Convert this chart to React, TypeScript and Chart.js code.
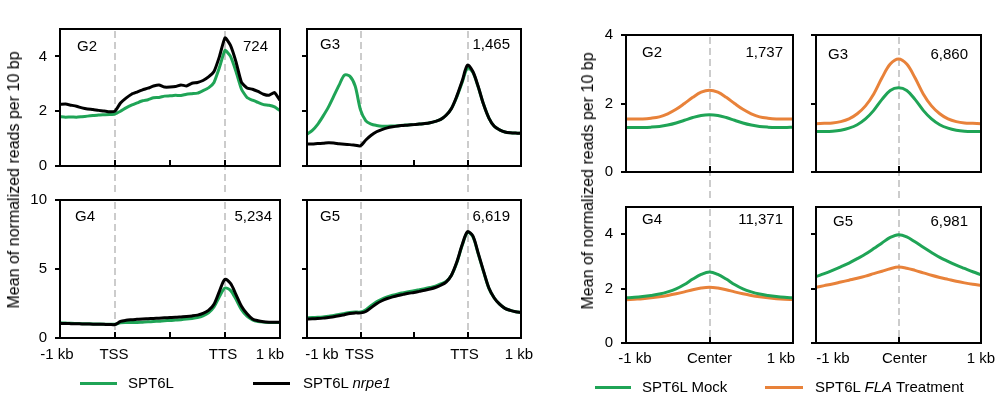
import React, { useEffect, useRef } from "react";
import { Chart, registerables } from "chart.js";
Chart.register(...registerables);

const FONT = '"Liberation Sans", Arial, Helvetica, sans-serif';
const GREEN = "#1fa456";
const ORANGE = "#e8823a";
const BLACK = "#000000";

// ---------- x positions ----------
const geneBins = [0, 0.1, 0.2, 0.3, 0.4, 0.5, 0.6, 0.7, 0.8, 0.9, 1.0,
  1.1, 1.2, 1.3, 1.4, 1.5, 1.6, 1.7, 1.8, 1.9, 2.0,
  2.1, 2.2, 2.3, 2.4, 2.5, 2.6, 2.7, 2.8, 2.9, 3.0,
  3.1, 3.2, 3.3, 3.4, 3.5, 3.6, 3.7, 3.8, 3.9, 4.0];
const geneTickValues = [0, 1, 2, 3, 4];
const geneTickLabels = ["-1 kb", "TSS", "", "TTS", "1 kb"];
const geneMarks = [1, 3];
const geneInnerTicks = [1, 2, 3];

const centerBins = [-1, -0.9, -0.8, -0.7, -0.6, -0.5, -0.4, -0.3, -0.2, -0.1, 0,
  0.1, 0.2, 0.3, 0.4, 0.5, 0.6, 0.7, 0.8, 0.9, 1];
const centerTickValues = [-1, 0, 1];
const centerTickLabels = ["-1 kb", "Center", "1 kb"];
const centerMarks = [0];
const centerInnerTicks = [0];

// ---------- left group: SPT6L vs SPT6L nrpe1 ----------
const g2Spt6l = [1.80, 1.78, 1.79, 1.78, 1.80, 1.82, 1.84, 1.86, 1.87, 1.88, 1.90,
  2.00, 2.12, 2.22, 2.30, 2.38, 2.42, 2.49, 2.50, 2.55, 2.56,
  2.58, 2.57, 2.62, 2.64, 2.66, 2.75, 2.85, 3.05, 3.60, 4.22,
  4.00, 3.45, 2.80, 2.50, 2.40, 2.32, 2.24, 2.22, 2.16, 2.02];
const g2Nrpe1 = [2.25, 2.26, 2.22, 2.18, 2.12, 2.08, 2.06, 2.03, 2.01, 1.98, 2.00,
  2.30, 2.48, 2.62, 2.70, 2.78, 2.84, 2.92, 2.96, 2.88, 2.88,
  2.90, 2.96, 2.92, 3.02, 3.05, 3.12, 3.25, 3.45, 4.00, 4.68,
  4.40, 3.80, 3.05, 2.85, 2.80, 2.72, 2.62, 2.58, 2.68, 2.40];

const g3Spt6l = [1.16, 1.30, 1.52, 1.82, 2.15, 2.55, 2.95, 3.32, 3.28, 2.92, 2.05,
  1.65, 1.53, 1.48, 1.45, 1.45, 1.46, 1.47, 1.49, 1.50, 1.51,
  1.53, 1.55, 1.58, 1.63, 1.70, 1.85, 2.10, 2.52, 3.05, 3.58,
  3.42, 2.88, 2.25, 1.75, 1.45, 1.32, 1.24, 1.21, 1.20, 1.20];
const g3Nrpe1 = [0.80, 0.80, 0.82, 0.83, 0.85, 0.84, 0.81, 0.79, 0.78, 0.76, 0.74,
  0.95, 1.12, 1.25, 1.33, 1.39, 1.43, 1.46, 1.48, 1.50, 1.51,
  1.53, 1.55, 1.58, 1.63, 1.70, 1.85, 2.10, 2.55, 3.10, 3.68,
  3.45, 2.90, 2.25, 1.75, 1.45, 1.32, 1.24, 1.21, 1.20, 1.20];

const g4Spt6l = [1.10, 1.08, 1.06, 1.05, 1.04, 1.03, 1.02, 1.01, 1.00, 1.00, 1.00,
  1.10, 1.12, 1.12, 1.13, 1.15, 1.17, 1.20, 1.22, 1.25, 1.27,
  1.30, 1.33, 1.37, 1.42, 1.48, 1.60, 1.82, 2.25, 3.00, 3.62,
  3.45, 2.80, 2.05, 1.58, 1.32, 1.20, 1.15, 1.13, 1.12, 1.12];
const g4Nrpe1 = [1.05, 1.05, 1.04, 1.03, 1.02, 1.01, 1.00, 1.00, 0.99, 0.98, 0.98,
  1.20, 1.28, 1.32, 1.35, 1.38, 1.40, 1.42, 1.44, 1.46, 1.48,
  1.50, 1.53, 1.56, 1.60, 1.66, 1.78, 2.00, 2.45, 3.40, 4.25,
  3.95, 3.15, 2.30, 1.75, 1.38, 1.25, 1.18, 1.15, 1.14, 1.14];

const g5Spt6l = [1.47, 1.48, 1.50, 1.53, 1.58, 1.63, 1.70, 1.78, 1.85, 1.88, 1.88,
  2.05, 2.35, 2.62, 2.82, 2.98, 3.10, 3.20, 3.28, 3.36, 3.42,
  3.50, 3.58, 3.66, 3.76, 3.92, 4.10, 4.55, 5.45, 6.70, 7.65,
  7.35, 6.10, 4.80, 3.60, 2.90, 2.45, 2.15, 2.00, 1.90, 1.85];
const g5Nrpe1 = [1.38, 1.39, 1.41, 1.44, 1.49, 1.54, 1.61, 1.69, 1.77, 1.82, 1.82,
  1.92, 2.20, 2.48, 2.70, 2.86, 2.98, 3.08, 3.16, 3.24, 3.30,
  3.38, 3.46, 3.55, 3.66, 3.82, 4.05, 4.55, 5.50, 6.75, 7.70,
  7.40, 6.15, 4.85, 3.62, 2.90, 2.45, 2.15, 2.00, 1.90, 1.85];

// ---------- right group: SPT6L Mock vs SPT6L FLA Treatment ----------
const r2Mock = [1.30, 1.30, 1.30, 1.31, 1.33, 1.37, 1.43, 1.51, 1.59, 1.65, 1.67, 1.65, 1.59, 1.51, 1.43, 1.37, 1.33, 1.31, 1.30, 1.30, 1.31];
const r2Fla = [1.55, 1.55, 1.55, 1.57, 1.61, 1.70, 1.83, 2.00, 2.18, 2.33, 2.39, 2.33, 2.18, 2.00, 1.83, 1.70, 1.61, 1.57, 1.55, 1.55, 1.55];
const r3Mock = [1.18, 1.18, 1.19, 1.22, 1.28, 1.38, 1.55, 1.80, 2.12, 2.38, 2.46, 2.38, 2.12, 1.80, 1.55, 1.38, 1.28, 1.22, 1.19, 1.18, 1.18];
const r3Fla = [1.41, 1.42, 1.43, 1.47, 1.55, 1.70, 1.93, 2.28, 2.75, 3.15, 3.30, 3.15, 2.75, 2.28, 1.93, 1.70, 1.55, 1.47, 1.43, 1.42, 1.41];
const r4Mock = [1.66, 1.68, 1.71, 1.75, 1.80, 1.88, 1.99, 2.15, 2.35, 2.52, 2.61, 2.52, 2.35, 2.15, 1.99, 1.88, 1.80, 1.75, 1.71, 1.68, 1.66];
const r4Fla = [1.59, 1.61, 1.63, 1.66, 1.70, 1.75, 1.81, 1.88, 1.96, 2.02, 2.05, 2.02, 1.96, 1.88, 1.81, 1.75, 1.70, 1.66, 1.63, 1.61, 1.60];
const r5Mock = [2.44, 2.55, 2.67, 2.80, 2.94, 3.10, 3.27, 3.47, 3.68, 3.88, 3.98, 3.90, 3.72, 3.52, 3.33, 3.15, 3.00, 2.86, 2.74, 2.62, 2.51];
const r5Fla = [2.05, 2.11, 2.17, 2.24, 2.31, 2.38, 2.46, 2.55, 2.64, 2.73, 2.79, 2.75, 2.67, 2.58, 2.49, 2.41, 2.34, 2.27, 2.21, 2.16, 2.12];

type Series = { label: string; data: number[]; color: string; order: number };
type PanelCfg = {
  l: number; t: number; r: number; b: number;
  tag: string; count: string;
  xs: number[]; xTicks: number[]; xLabels: string[]; showX: boolean; xShift: number[]; xLabelDy: number;
  marks: number[]; inner: number[]; top: boolean;
  yMax: number; yTicks: number[]; showY: boolean;
  series: Series[]; tension: number;
  tagDx: number; tagDy: number; cntDx: number;
};

const leftSeries = (green: number[], black: number[]): Series[] => [
  { label: "SPT6L", data: green, color: GREEN, order: 1 },
  { label: "SPT6L nrpe1", data: black, color: BLACK, order: 0 },
];
const rightSeries = (mock: number[], fla: number[]): Series[] => [
  { label: "SPT6L Mock", data: mock, color: GREEN, order: 0 },
  { label: "SPT6L FLA Treatment", data: fla, color: ORANGE, order: 1 },
];

const geneAxis = { xs: geneBins, xTicks: geneTickValues, xLabels: geneTickLabels, marks: geneMarks, inner: geneInnerTicks, xLabelDy: 17 };
const centerAxis = { xs: centerBins, xTicks: centerTickValues, xLabels: centerTickLabels, marks: centerMarks, inner: centerInnerTicks, xLabelDy: 16 };

const panels: PanelCfg[] = [
  { l: 60, t: 24, r: 280, b: 166, tag: "G2", count: "724", ...geneAxis, showX: false, xShift: [0, 0, 0, 0, 0], top: true, yMax: 5, yTicks: [0, 2, 4], showY: true, series: leftSeries(g2Spt6l, g2Nrpe1), tension: 0.15, tagDx: 17, tagDy: 18, cntDx: 12 },
  { l: 307, t: 24, r: 521, b: 166, tag: "G3", count: "1,465", ...geneAxis, showX: false, xShift: [0, 0, 0, 0, 0], top: true, yMax: 5, yTicks: [0, 2, 4], showY: false, series: leftSeries(g3Spt6l, g3Nrpe1), tension: 0.3, tagDx: 13, tagDy: 16, cntDx: 11 },
  { l: 60, t: 195, r: 280, b: 338, tag: "G4", count: "5,234", ...geneAxis, showX: true, xShift: [-3, -1, 0, -2, -10], top: false, yMax: 10, yTicks: [0, 5, 10], showY: true, series: leftSeries(g4Spt6l, g4Nrpe1), tension: 0.3, tagDx: 15, tagDy: 17, cntDx: 8 },
  { l: 307, t: 195, r: 521, b: 338, tag: "G5", count: "6,619", ...geneAxis, showX: true, xShift: [15, -1, 0, -3, -2], top: false, yMax: 10, yTicks: [0, 5, 10], showY: false, series: leftSeries(g5Spt6l, g5Nrpe1), tension: 0.3, tagDx: 13, tagDy: 17, cntDx: 11 },
  { l: 626, t: 30, r: 793, b: 172, tag: "G2", count: "1,737", ...centerAxis, showX: false, xShift: [0, 0, 0], top: true, yMax: 4, yTicks: [0, 2, 4], showY: true, series: rightSeries(r2Mock, r2Fla), tension: 0.35, tagDx: 16, tagDy: 18, cntDx: 10 },
  { l: 816, t: 30, r: 981, b: 172, tag: "G3", count: "6,860", ...centerAxis, showX: false, xShift: [0, 0, 0], top: true, yMax: 4, yTicks: [0, 2, 4], showY: false, series: rightSeries(r3Mock, r3Fla), tension: 0.35, tagDx: 12, tagDy: 20, cntDx: 13 },
  { l: 626, t: 202, r: 793, b: 343, tag: "G4", count: "11,371", ...centerAxis, showX: true, xShift: [9, 0, -12], top: false, yMax: 5, yTicks: [0, 2, 4], showY: true, series: rightSeries(r4Mock, r4Fla), tension: 0.35, tagDx: 16, tagDy: 13, cntDx: 10 },
  { l: 816, t: 202, r: 981, b: 343, tag: "G5", count: "6,981", ...centerAxis, showX: true, xShift: [17, 6, 0], top: false, yMax: 5, yTicks: [0, 2, 4], showY: false, series: rightSeries(r5Mock, r5Fla), tension: 0.35, tagDx: 17, tagDy: 15, cntDx: 13 },
];

const ML = 50, MT = 12, MR = 24, MB = 30;

function Panel({ p }: { p: PanelCfg }) {
  const ref = useRef<HTMLCanvasElement>(null);
  const W = p.r - p.l + ML + MR;
  const H = p.b - p.t + MT + MB;
  useEffect(() => {
    const decor = {
      id: "decor",
      beforeDatasetsDraw(chart: any) {
        const { ctx, chartArea: a } = chart;
        const x = chart.scales.x;
        ctx.save();
        ctx.strokeStyle = "#cccccc";
        ctx.lineWidth = 2;
        ctx.setLineDash([7, 4]);
        for (const m of p.marks) {
          const px = Math.round(x.getPixelForValue(m));
          ctx.beginPath();
          ctx.moveTo(px, a.top + 2);
          ctx.lineTo(px, p.top ? chart.height : a.bottom);
          ctx.stroke();
        }
        ctx.restore();
      },
      afterDraw(chart: any) {
        const { ctx, chartArea: a } = chart;
        const x = chart.scales.x;
        ctx.save();
        ctx.strokeStyle = "#000";
        ctx.lineWidth = 2;
        ctx.strokeRect(a.left, a.top, a.right - a.left, a.bottom - a.top);
        for (const v of p.inner) {
          const px = Math.round(x.getPixelForValue(v));
          ctx.beginPath();
          ctx.moveTo(px, a.bottom + 1);
          ctx.lineTo(px, a.bottom - 6);
          ctx.stroke();
        }
        ctx.fillStyle = "#000";
        ctx.font = `15px ${FONT}`;
        ctx.textBaseline = "middle";
        ctx.textAlign = "left";
        ctx.fillText(p.tag, a.left + p.tagDx, a.top + p.tagDy);
        ctx.textAlign = "right";
        ctx.fillText(p.count, a.right - p.cntDx, a.top + p.tagDy);
        if (p.showX) {
          ctx.textAlign = "center";
          p.xTicks.forEach((v, i) => {
            const lbl = p.xLabels[i];
            if (!lbl) return;
            ctx.fillText(lbl, x.getPixelForValue(v) + p.xShift[i], a.bottom + p.xLabelDy);
          });
        }
        ctx.restore();
      },
    };
    const chart = new Chart(ref.current as HTMLCanvasElement, {
      type: "line",
      data: {
        datasets: p.series.map((s) => ({
          label: s.label,
          data: p.xs.map((xv, j) => ({ x: xv, y: s.data[j] })),
          borderColor: s.color,
          backgroundColor: s.color,
          borderWidth: 3,
          pointRadius: 0,
          tension: p.tension,
          fill: false,
          order: s.order,
        })),
      },
      options: {
        responsive: false,
        animation: false,
        devicePixelRatio: 1,
        events: [],
        layout: { padding: { left: 0, top: MT, right: MR, bottom: 0 } },
        plugins: { legend: { display: false }, tooltip: { enabled: false } },
        scales: {
          x: {
            type: "linear",
            min: p.xs[0],
            max: p.xs[p.xs.length - 1],
            afterBuildTicks: (s: any) => { s.ticks = p.xTicks.map((v) => ({ value: v })); },
            afterFit: (s: any) => { s.height = MB; },
            grid: { display: false, drawTicks: false },
            border: { display: false },
            ticks: { autoSkip: false, maxRotation: 0, minRotation: 0, callback: () => "" },
          },
          y: {
            type: "linear",
            min: 0,
            max: p.yMax,
            afterBuildTicks: (s: any) => { s.ticks = p.yTicks.map((v) => ({ value: v })); },
            afterFit: (s: any) => { s.width = ML; },
            grid: { display: true, drawOnChartArea: false, drawTicks: true, tickLength: 5, color: "#000", lineWidth: 2 },
            border: { display: false },
            ticks: {
              padding: 8,
              color: "#000",
              font: { size: 15, family: FONT },
              callback: (v: any) => (p.showY ? String(v) : ""),
            },
          },
        },
      } as any,
      plugins: [decor],
    });
    return () => chart.destroy();
  }, []);
  return (
    <canvas
      ref={ref}
      width={W}
      height={H}
      style={{ position: "absolute", left: p.l - ML, top: p.t - MT, width: W, height: H }}
    />
  );
}

const txt: React.CSSProperties = { position: "absolute", fontSize: 15, lineHeight: "18px", whiteSpace: "nowrap", color: "#000" };

function LegendItem({ x1, x2, y, color, tx, children }: { x1: number; x2: number; y: number; color: string; tx: number; children: React.ReactNode }) {
  return (
    <>
      <div style={{ position: "absolute", left: x1, top: y - 1.5, width: x2 - x1, height: 3, background: color }} />
      <div style={{ ...txt, left: tx, top: y - 9 }}>{children}</div>
    </>
  );
}

function YTitle({ x, y }: { x: number; y: number }) {
  return (
    <div style={{ position: "absolute", left: x, top: y, fontSize: 16, lineHeight: "18px", whiteSpace: "nowrap", transform: "translate(-50%,-50%) rotate(-90deg)" }}>
      Mean of normalized reads per 10 bp
    </div>
  );
}

export default function App() {
  return (
    <div style={{ position: "absolute", left: 0, top: 0, width: 1000, height: 398, background: "#fff", fontFamily: FONT, overflow: "hidden" }}>
      {panels.map((p, i) => <Panel key={i} p={p} />)}
      <YTitle x={14} y={180} />
      <YTitle x={588} y={181} />
      <LegendItem x1={80} x2={117} y={383} color={GREEN} tx={128}>SPT6L</LegendItem>
      <LegendItem x1={253} x2={290} y={383} color={BLACK} tx={303}>SPT6L <i>nrpe1</i></LegendItem>
      <LegendItem x1={595} x2={631} y={387} color={GREEN} tx={642}>SPT6L Mock</LegendItem>
      <LegendItem x1={765} x2={803} y={387} color={ORANGE} tx={815}>SPT6L <i>FLA</i> Treatment</LegendItem>
    </div>
  );
}
